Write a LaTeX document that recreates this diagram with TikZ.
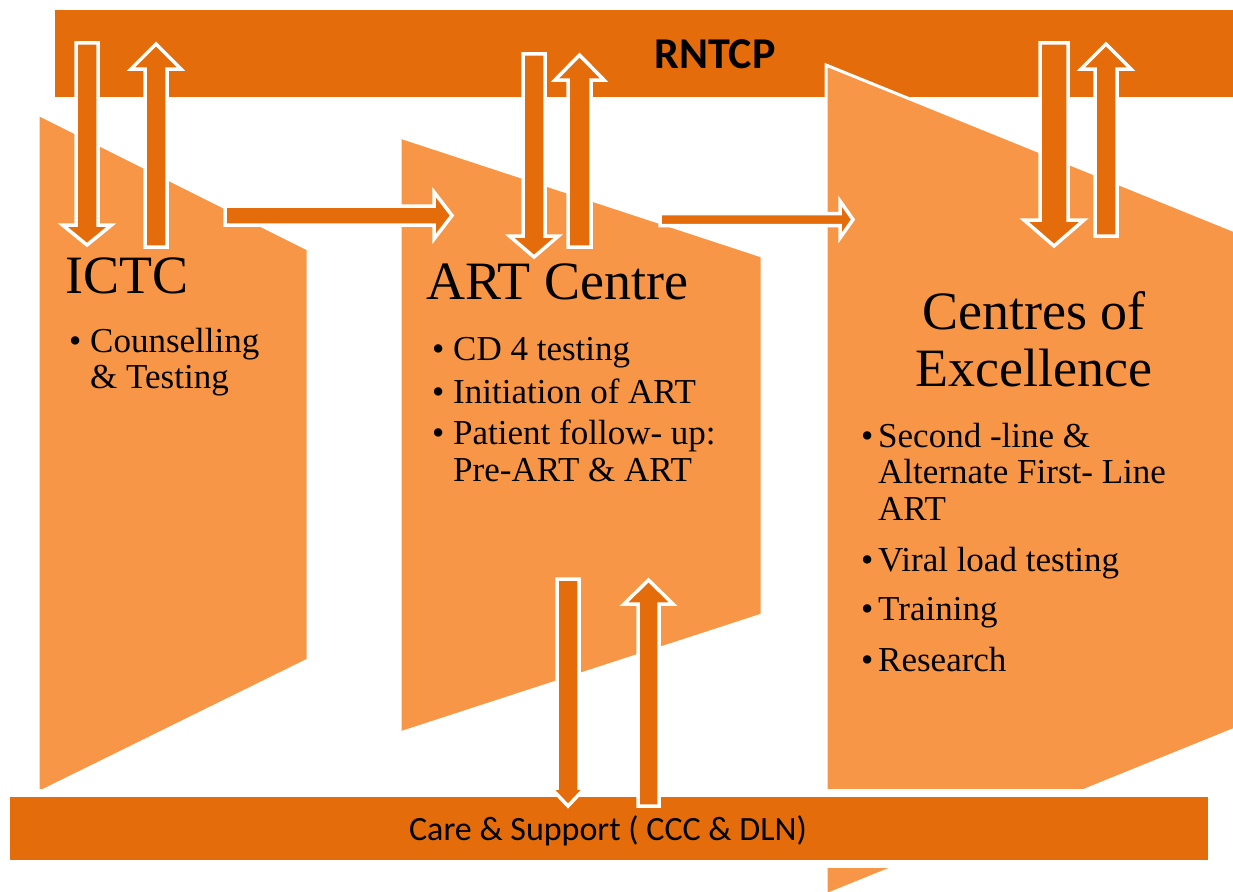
\documentclass[tikz,border=0pt]{standalone}
\usepackage{fontspec}
\setmainfont{Liberation Serif}
\newfontfamily\calibri{Carlito}
\definecolor{barorange}{HTML}{E46C0A}
\definecolor{panelorange}{HTML}{F79646}
\tikzset{
	bar/.style={fill=barorange,draw=white,line width=8pt},
	panel/.style={fill=panelorange,draw=white,line width=3pt},
	blockarrow/.style={fill=barorange,draw=white,line width=3.5pt,line join=miter},
	title/.style={anchor=base west,inner sep=0pt,font=\fontsize{54}{57}\selectfont},
	item/.style={anchor=base west,inner sep=0pt,font=\fontsize{35}{36}\selectfont},
	bartext/.style={anchor=base,inner sep=0pt}
}
% x, flat end, head base, tip, shaft half width, head half width
\newcommand{\vblockarrow}[6]{\draw[blockarrow] ({#1-#5},#2) -- ({#1+#5},#2) -- ({#1+#5},#3) -- ({#1+#6},#3) -- (#1,#4) -- ({#1-#6},#3) -- ({#1-#5},#3) -- cycle;}
\newcommand{\hblockarrow}[6]{\draw[blockarrow] (#2,{#1-#5}) -- (#3,{#1-#5}) -- (#3,{#1-#6}) -- (#4,#1) -- (#3,{#1+#6}) -- (#3,{#1+#5}) -- (#2,{#1+#5}) -- cycle;}
\begin{document}
\begin{tikzpicture}[x=1pt,y=-1pt]
		\clip (0,0) rectangle (1233,891);
		\fill[white] (0,0) rectangle (1233,891);
		
		\fill[barorange] (55,10) rectangle (1240,97);
		
		\draw[panel] (38,114) -- (308,249) -- (308,660) -- (38,793) -- cycle;
		\draw[panel] (400,137) -- (762,256) -- (762,615) -- (400,733) -- cycle;
		\draw[panel] (826,65) -- (1260,241) -- (1260,719) -- (826,895) -- cycle;
		
		% RNTCP links
		\vblockarrow{87}{43}{225}{245}{11}{24.5}
		\vblockarrow{156}{247}{69}{44}{11}{25}
		\vblockarrow{534}{54}{236}{257}{11}{24.5}
		\vblockarrow{579.5}{247}{80}{55}{11.5}{24.5}
		\vblockarrow{1054}{43}{220}{246}{14}{30}
		\vblockarrow{1106}{236}{69}{44}{11}{25}
		
		\hblockarrow{215.5}{225}{434}{452}{9.5}{23.5}
		\hblockarrow{219.5}{660}{840}{853}{6}{18.5}
		
		\draw[bar] (6,793) rectangle (1212,864);
		
		% care and support links
		\vblockarrow{568}{579}{788}{806}{11}{17}
		\vblockarrow{648.5}{806}{604}{580}{10.5}{24.5}
		
		\node[bartext,font=\calibri\bfseries\fontsize{44}{46}\selectfont] (rntcp) at (715,69) {RNTCP};
		\node[bartext,font=\calibri\fontsize{34}{36}\selectfont] (care) at (608,840) {Care \& Support ( CCC \& DLN)};
		
		\node[title] (ictc) at (65,293) {ICTC};
		\node[item] (ictcb1) at (69,352) {\textbullet};
		\node[item] (ictc1) at (90,352) {Counselling};
		\node[item] (ictc1b) at (90,388) {\& Testing};
		
		\node[title] (art) at (426,299) {ART Centre};
		\node[item] (artb1) at (432,360) {\textbullet};
		\node[item] (artb2) at (432,403) {\textbullet};
		\node[item] (artb3) at (432,444) {\textbullet};
		\node[item] (art1) at (453,360) {CD 4 testing};
		\node[item] (art2) at (453,403) {Initiation of ART};
		\node[item] (art3) at (453,444) {Patient follow- up:};
		\node[item] (art3b) at (453,481) {Pre-ART \& ART};
		
		\node[title,anchor=base] (coe) at (1034,329) {Centres of};
		\node[title,anchor=base] (coeb) at (1034,386) {Excellence};
		\node[item] (coeb1) at (861,447) {\textbullet};
		\node[item] (coeb2) at (861,571) {\textbullet};
		\node[item] (coeb3) at (861,620) {\textbullet};
		\node[item] (coeb4) at (861,671) {\textbullet};
		\node[item] (coe1) at (878,447) {Second -line \&};
		\node[item] (coe1b) at (878,483) {Alternate First- Line};
		\node[item] (coe1c) at (878,520) {ART};
		\node[item] (coe2) at (878,571) {Viral load testing};
		\node[item] (coe3) at (878,620) {Training};
		\node[item] (coe4) at (878,671) {Research};
	\end{tikzpicture}
\end{document}
